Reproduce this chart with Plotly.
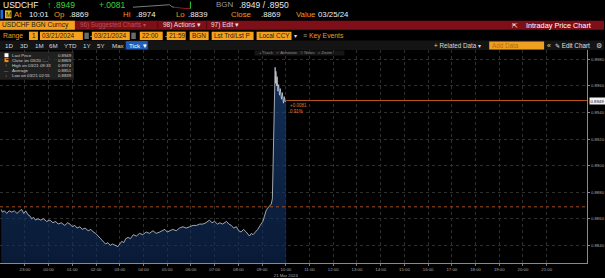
import plotly.graph_objects as go

W, H = 605, 278

# ---------------- data ----------------
times = [
    "2024-03-20 22:00", "2024-03-20 22:03", "2024-03-20 22:08", "2024-03-20 22:14", "2024-03-20 22:20",
    "2024-03-20 22:27", "2024-03-20 22:33", "2024-03-20 22:40", "2024-03-20 22:47", "2024-03-20 22:52",
    "2024-03-20 22:57", "2024-03-20 23:02", "2024-03-20 23:08", "2024-03-20 23:13", "2024-03-20 23:17",
    "2024-03-20 23:22", "2024-03-20 23:27", "2024-03-20 23:33", "2024-03-20 23:40", "2024-03-20 23:47",
    "2024-03-20 23:55", "2024-03-21 00:03", "2024-03-21 00:11", "2024-03-21 00:18", "2024-03-21 00:24",
    "2024-03-21 00:32", "2024-03-21 00:41", "2024-03-21 00:48", "2024-03-21 00:54", "2024-03-21 01:00",
    "2024-03-21 01:06", "2024-03-21 01:12", "2024-03-21 01:19", "2024-03-21 01:25", "2024-03-21 01:32",
    "2024-03-21 01:40", "2024-03-21 01:47", "2024-03-21 01:53", "2024-03-21 01:59", "2024-03-21 02:05",
    "2024-03-21 02:10", "2024-03-21 02:14", "2024-03-21 02:19", "2024-03-21 02:24", "2024-03-21 02:30",
    "2024-03-21 02:36", "2024-03-21 02:42", "2024-03-21 02:48", "2024-03-21 02:55", "2024-03-21 03:00",
    "2024-03-21 03:05", "2024-03-21 03:10", "2024-03-21 03:15", "2024-03-21 03:21", "2024-03-21 03:27",
    "2024-03-21 03:34", "2024-03-21 03:42", "2024-03-21 03:50", "2024-03-21 03:58", "2024-03-21 04:07",
    "2024-03-21 04:15", "2024-03-21 04:24", "2024-03-21 04:32", "2024-03-21 04:41", "2024-03-21 04:48",
    "2024-03-21 04:54", "2024-03-21 05:00", "2024-03-21 05:06", "2024-03-21 05:14", "2024-03-21 05:23",
    "2024-03-21 05:31", "2024-03-21 05:40", "2024-03-21 05:48", "2024-03-21 05:57", "2024-03-21 06:05",
    "2024-03-21 06:14", "2024-03-21 06:22", "2024-03-21 06:30", "2024-03-21 06:38", "2024-03-21 06:47",
    "2024-03-21 06:53", "2024-03-21 07:00", "2024-03-21 07:07", "2024-03-21 07:13", "2024-03-21 07:20",
    "2024-03-21 07:30", "2024-03-21 07:36", "2024-03-21 07:42", "2024-03-21 07:48", "2024-03-21 07:55",
    "2024-03-21 08:01", "2024-03-21 08:07", "2024-03-21 08:13", "2024-03-21 08:20", "2024-03-21 08:24",
    "2024-03-21 08:28", "2024-03-21 08:33", "2024-03-21 08:37", "2024-03-21 08:43", "2024-03-21 08:49",
    "2024-03-21 08:55", "2024-03-21 09:02", "2024-03-21 09:06", "2024-03-21 09:10", "2024-03-21 09:14",
    "2024-03-21 09:19", "2024-03-21 09:23", "2024-03-21 09:26", "2024-03-21 09:28", "2024-03-21 09:30",
    "2024-03-21 09:32", "2024-03-21 09:33", "2024-03-21 09:34", "2024-03-21 09:35", "2024-03-21 09:37",
    "2024-03-21 09:38", "2024-03-21 09:40", "2024-03-21 09:42", "2024-03-21 09:44", "2024-03-21 09:46",
    "2024-03-21 09:49", "2024-03-21 09:51", "2024-03-21 09:54", "2024-03-21 09:56", "2024-03-21 09:58",
    "2024-03-21 10:01",
]
prices = [
    0.8867, 0.8865, 0.8866, 0.8864, 0.8866,
    0.8865, 0.8866, 0.8864, 0.8866, 0.8867,
    0.8864, 0.8866, 0.8863, 0.8862, 0.8860,
    0.8861, 0.8859, 0.8860, 0.8859, 0.8860,
    0.8858, 0.8859, 0.8857, 0.8858, 0.8856,
    0.8857, 0.8855, 0.8857, 0.8856, 0.8854,
    0.8855, 0.8853, 0.8854, 0.8852, 0.8853,
    0.8851, 0.8852, 0.8850, 0.8849, 0.8847,
    0.8846, 0.8844, 0.8843, 0.8841, 0.8842,
    0.8840, 0.8841, 0.8840, 0.8839, 0.8841,
    0.8843, 0.8842, 0.8845, 0.8846, 0.8845,
    0.8848, 0.8847, 0.8849, 0.8848, 0.8850,
    0.8849, 0.8851, 0.8849, 0.8850, 0.8851,
    0.8852, 0.8850, 0.8851, 0.8852, 0.8851,
    0.8853, 0.8854, 0.8853, 0.8854, 0.8855,
    0.8855, 0.8856, 0.8856, 0.8857, 0.8859,
    0.8857, 0.8858, 0.8856, 0.8857, 0.8856,
    0.8858, 0.8856, 0.8855, 0.8853, 0.8854,
    0.8851, 0.8850, 0.8852, 0.8850, 0.8848,
    0.8847, 0.8849, 0.8848, 0.8850, 0.8852,
    0.8855, 0.8858, 0.8862, 0.8866, 0.8868,
    0.8870, 0.8871, 0.8875, 0.8900, 0.8940,
    0.8960, 0.8974, 0.8962, 0.8971, 0.8960,
    0.8967, 0.8956, 0.8961, 0.8953, 0.8958,
    0.8950, 0.8955, 0.8947, 0.8952, 0.8948,
    0.8949,
]
close_prev = 0.8869
last_price = 0.8949
high_price = 0.8974
avg_price = 0.8851
low_price = 0.8839
change_abs = "+0.0081"
change_pct = "0.91%"

hour_ticks = ["2024-03-20 23:00"] + ["2024-03-21 %02d:00" % h for h in range(0, 22)]
hour_labels = ["23:00"] + ["%02d:00" % h for h in range(0, 22)]
hour_labels[11] = "10:00<br>21 Mar 2024"
y_ticks = [0.8840, 0.8860, 0.8880, 0.8900, 0.8920, 0.8940, 0.8960, 0.8980]
y_labels = ["0.8840", "0.8860", "0.8880", "0.8900", "0.8920", "0.8940", "0.8960", "0.8980"]
x_range = ["2024-03-20 21:57", "2024-03-21 22:42"]
y_range = [0.88266, 0.89867]

# mini sparkline in the header
spark_grey = [0.30, 0.32, 0.31, 0.35, 0.34, 0.38, 0.40, 0.42, 0.45, 0.47, 0.50, 0.52, 0.55, 0.58, 0.60, 0.62, 0.58, 0.35, 0.30]
spark_red = [0.30, 0.25, 0.22, 0.20, 0.18, 0.15, 0.15, 0.14]
spark_green = [0.14, 0.95]

FONT = "Liberation Sans, Arial, sans-serif"
ORANGE = "#f39a1e"
AMBER = "#f5a11c"

fig = go.Figure()

fig.add_trace(go.Scatter(
    x=times, y=prices, mode="lines",
    line=dict(color="#c9cdd3", width=0.8),
    fill="tozeroy",
    fillgradient=dict(type="vertical",
                      colorscale=[[0, "rgba(14,42,88,0.62)"], [1, "rgba(28,70,128,0.68)"]],
                      start=y_range[0], stop=high_price),
    hoverinfo="skip", showlegend=False,
))

# sparkline
n_g = len(spark_grey)
fig.add_trace(go.Scatter(x=list(range(n_g)), y=spark_grey, mode="lines",
                         line=dict(color="#9a9a9a", width=0.8), xaxis="x2", yaxis="y2", showlegend=False))
fig.add_trace(go.Scatter(x=list(range(n_g - 1, n_g - 1 + len(spark_red))), y=spark_red, mode="lines",
                         line=dict(color="#c0202a", width=0.8), xaxis="x2", yaxis="y2", showlegend=False))
fig.add_trace(go.Scatter(x=[n_g - 2 + len(spark_red)] * 2, y=spark_green, mode="lines",
                         line=dict(color="#2fd02f", width=1), xaxis="x2", yaxis="y2", showlegend=False))

shapes = []
annotations = []


def px(x):
    return x / W


def py(y):
    return 1 - y / H


def rect(x0, y0, x1, y1, fill, line=None, lw=0.6):
    shapes.append(dict(type="rect", xref="paper", yref="paper",
                       x0=px(x0), x1=px(x1), y0=py(y1), y1=py(y0),
                       fillcolor=fill, line=dict(color=line or fill, width=lw if line else 0),
                       layer="below"))


def txt(x, y, text, color="#e6e6e6", size=8, anchor="left", bg=None):
    annotations.append(dict(xref="paper", yref="paper", x=px(x), y=py(y), text=text,
                            showarrow=False, xanchor=anchor, yanchor="middle",
                            font=dict(color=color, size=size, family=FONT),
                            borderpad=0, bgcolor=bg))


# ---------- header ----------
# row 1
txt(2, 5, "USDCHF", "#f2f2f2", 8.5)
txt(46, 5, "↑ .8949", "#39d339", 8.5)
txt(98, 5, "+.0081", "#39d339", 8.5)
txt(215, 5, "BGN", "#9a9a9a", 8)
txt(238, 5, ".8949 / .8950", "#e6e6e6", 8.5)
# row 2
rect(0.5, 10, 3, 19, "#1f6fd6")
rect(5, 10.5, 11.5, 18.5, "#e4c200")
txt(8.2, 14.6, "M", "#222222", 6.5, anchor="center")
for x, t, c in [(13, "At", ORANGE), (28, "10:01", "#eeeeee"), (53, "Op", ORANGE), (68, ".8869", "#eeeeee"),
                (122, "Hi", ORANGE), (135, ".8974", "#eeeeee"), (175, "Lo", ORANGE), (187, ".8839", "#eeeeee"),
                (230, "Close", ORANGE), (260, ".8869", "#eeeeee"), (295, "Value", ORANGE), (318, "03/25/24", "#eeeeee")]:
    txt(x, 14.6, t, c, 7.8)
# row 3 (red bar)
rect(0, 21, 605, 30, "#7e0f19")
rect(0, 21, 75, 30, AMBER)
txt(1.5, 25.6, "USDCHF BGN Curncy", "#1b1b1b", 6.6)
txt(79, 25.6, "96) Suggested Charts ▾", "#b8505c", 6.3)
shapes.append(dict(type="line", xref="paper", yref="paper", x0=px(158), x1=px(158), y0=py(29), y1=py(22),
                   line=dict(color="#4a0a10", width=1)))
txt(162, 25.6, "98) Actions ▾", "#f0dcdc", 6.5)
shapes.append(dict(type="line", xref="paper", yref="paper", x0=px(207), x1=px(207), y0=py(29), y1=py(22),
                   line=dict(color="#4a0a10", width=1)))
txt(210, 25.6, "97) Edit ▾", "#f0dcdc", 6.5)
txt(512, 25.6, "⇱", "#ffffff", 7)
txt(526, 25.6, "Intraday Price Chart", "#ffffff", 7.3)
# row 4
txt(2, 36, "Range", ORANGE, 6.8)
for (x0, x1, t, al) in [(29, 38, "1", "right"), (40, 83, "03/21/2024", "left"), (92, 130, "03/21/2024", "left"),
                        (140, 163, "22:00", "left"), (167, 186, "21:59", "left"), (190, 209, "BGN", "left"),
                        (212, 254, "Lst Trd/Lst P", "left"), (257, 292, "Local CCY", "left")]:
    rect(x0, 32, x1, 40.5, AMBER)
    txt(x1 - 1 if al == "right" else x0 + 1.5, 36.3, t, "#1b1b1b", 6.4, anchor=al)
rect(84.5, 33, 89, 39.5, "#6a6a6a")
rect(131.5, 33, 136, 39.5, "#6a6a6a")
txt(89.5, 36.3, "-", "#dddddd", 7)
txt(163.8, 36.3, "-", "#dddddd", 7)
txt(293, 36.3, "▾", "#dddddd", 6)
txt(302, 36.3, "≡", "#9a9a9a", 7)
txt(309, 36.3, "Key Events", ORANGE, 6.8)
# row 5
rect(0, 41, 605, 50.5, "#141414")
for x, t in [(4, "1D"), (19, "3D"), (34, "1M"), (48, "6M"), (63, "YTD"), (82, "1Y"), (96, "5Y"), (111, "Max")]:
    txt(x, 46, t, "#d8d8d8", 6.2)
rect(126, 41.5, 148, 50, "#1f5fb8")
txt(128, 46, "Tick ▼", "#ffffff", 6.2)
txt(434, 46, "+ Related Data ▾", "#d8d8d8", 6.3)
rect(490, 42, 545, 50, "#f0a020")
txt(492, 46, "Add Data", "#b06a10", 6.3)
txt(547, 46, "«", "#d8d8d8", 7)
txt(555, 46, "✎ Edit Chart", "#e0e0e0", 6.3)
txt(596, 46, "⚙", "#d0d0d0", 7)
# small toolbar inside chart
rect(255, 51, 345, 56, "#161616")
txt(258, 53.5, "+ Track   ✓ Annotate   ≡ News   ⌕ Zoom", "#8a8a8a", 4.2)

# ---------- legend box ----------
rect(0, 52, 74, 80.5, "rgba(38,38,38,0.85)")
rect(4.5, 53.8, 8.5, 57.8, "#ffffff")
rect(4.5, 58.8, 8.5, 62.8, "#f08a1e")
for y, lab, val in [(56, "Last Price", last_price), (61, "Close on 03/20 ----", close_prev),
                    (66, "High on 03/21 09:33", high_price), (71.3, "Average", avg_price),
                    (76, "Low on 03/21 02:55", low_price)]:
    txt(11.5, y, lab, "#d0d0d0", 4.3)
    txt(73, y, "%.4f" % val, "#d0d0d0", 4.3, anchor="right")
txt(6.5, 66, "↑", "#bbbbbb", 4.3, anchor="center")
txt(6.5, 71.3, "—", "#bbbbbb", 4.3, anchor="center")
txt(6.5, 76, "↓", "#bbbbbb", 4.3, anchor="center")

# ---------- reference lines ----------
shapes.append(dict(type="line", xref="paper", yref="y", x0=0, x1=px(588), y0=close_prev, y1=close_prev,
                   line=dict(color="#b9561c", width=0.9, dash="dot"), layer="above"))
shapes.append(dict(type="line", xref="x", yref="y", x0=times[-1], x1=x_range[1], y0=last_price, y1=last_price,
                   line=dict(color="#b9561c", width=1), layer="above"))
annotations.append(dict(xref="x", yref="y", x=times[-1], y=last_price, text=change_abs, showarrow=False,
                        xanchor="left", yanchor="top", xshift=2, yshift=-0.5,
                        font=dict(color="#e07b2a", size=4.5, family=FONT)))
annotations.append(dict(xref="x", yref="y", x=times[-1], y=last_price, text=change_pct, showarrow=False,
                        xanchor="left", yanchor="top", xshift=2, yshift=-6.5,
                        font=dict(color="#e07b2a", size=4.5, family=FONT)))
annotations.append(dict(xref="paper", yref="y", x=px(589.5), y=last_price, text="%.4f" % last_price,
                        showarrow=False, xanchor="left", yanchor="middle", bgcolor="#f2f2f2", borderpad=0.5,
                        font=dict(color="#111111", size=4.3, family=FONT)))

fig.update_layout(
    width=W, height=H, margin=dict(l=0, r=0, t=0, b=0),
    paper_bgcolor="#000000", plot_bgcolor="#000000",
    showlegend=False, shapes=shapes, annotations=annotations,
    xaxis=dict(domain=[0, px(588)], type="date", range=x_range,
               tickvals=hour_ticks, ticktext=hour_labels, ticks="outside", ticklen=2,
               tickcolor="#777777", tickfont=dict(color="#a8a8a8", size=4.3, family=FONT),
               showgrid=True, gridcolor="#2f2f2f", griddash="dot", gridwidth=0.8,
               showline=True, linecolor="#8a8a8a", linewidth=1, zeroline=False, anchor="y"),
    yaxis=dict(domain=[12 / H, 1 - 51 / H], range=y_range, side="right",
               tickvals=y_ticks, ticktext=y_labels, ticks="outside", ticklen=2,
               tickcolor="#888888", tickfont=dict(color="#a8a8a8", size=4.3, family=FONT),
               showgrid=True, gridcolor="#2f2f2f", griddash="dot", gridwidth=0.8,
               showline=True, linecolor="#8a8a8a", linewidth=1, zeroline=False, anchor="x"),
    xaxis2=dict(domain=[px(133), px(193)], visible=False, anchor="y2", range=[0, 26]),
    yaxis2=dict(domain=[py(10), py(1)], visible=False, anchor="x2", range=[0, 1]),
)

fig.write_html("out.html")
